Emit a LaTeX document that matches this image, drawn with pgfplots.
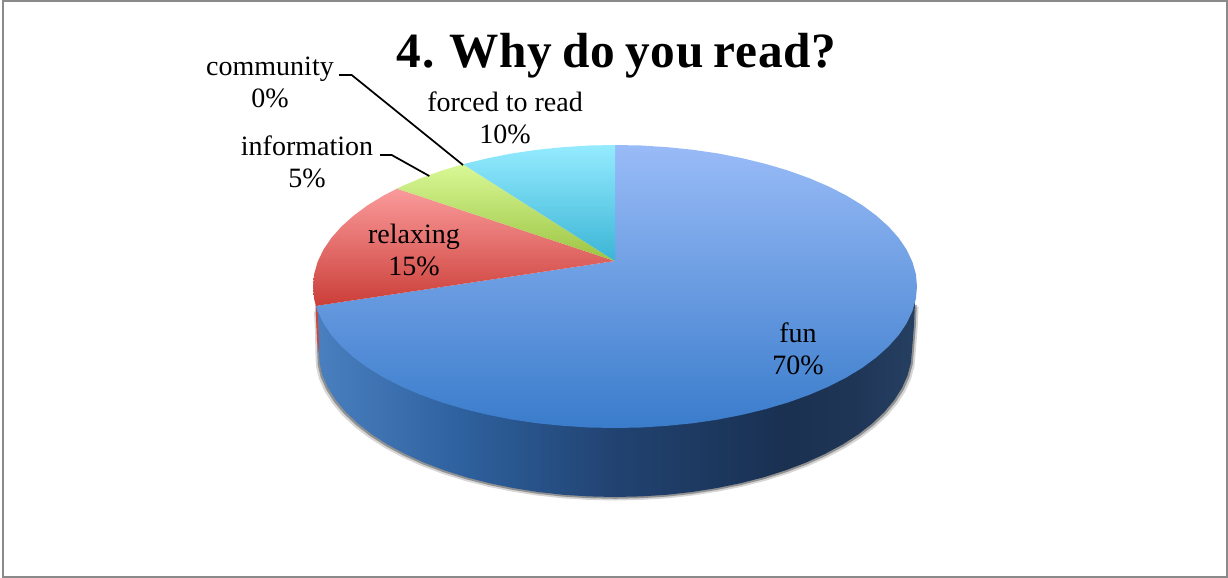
\documentclass[border=0pt]{standalone}
\usepackage{fontspec}
\setmainfont{Liberation Serif}
\newfontfamily\titlefont[WordSpace=0.8, LetterSpace=1.3]{Liberation Serif}
\usepackage{pgfplots}
\usepackage{pgfplotstable}
\pgfplotsset{compat=1.18}

\tikzset{
  lab/.style={font=\fontsize{21}{24}\selectfont, align=center, inner sep=0pt},
  lead/.style={black, line width=1.3pt},
}

% side wall colours, left to right
\pgfdeclarehorizontalshading{wall}{100bp}{
  rgb(0bp)=(.29,.50,.75); rgb(25bp)=(.29,.50,.75);
  rgb(37bp)=(.18,.38,.62); rgb(50bp)=(.13,.26,.44);
  rgb(64bp)=(.10,.19,.32); rgb(70bp)=(.12,.21,.34);
  rgb(75bp)=(.15,.25,.38); rgb(100bp)=(.15,.25,.38)}

% outline of the bottom of the pie, in image pixels
\pgfplotstableread{
x y
915 303
914 325
912 350
910.9 362.8
907.5 375.5
901.9 388
894.1 400.3
884.2 412.1
872.2 423.5
858.3 434.3
842.5 444.5
825 453.9
805.9 462.6
785.4 470.4
763.5 477.3
740.5 483.2
716.6 488.1
691.9 492
666.6 494.8
640.9 496.4
615 497
589.1 496.4
563.4 494.8
538.1 492
513.4 488.1
489.5 483.2
466.5 477.3
444.6 470.4
424.1 462.6
405 453.9
387.5 444.5
371.7 434.3
357.8 423.5
345.8 412.1
335.9 400.3
328.1 388
322.5 375.5
319.5 362.8
319 350
318.5 325
317.5 308
}\bottomedge

\pgfplotstableread{
x y
615 261
615 145
641.3 145.5
667.4 147.2
693.2 149.8
718.3 153.5
742.6 158.3
766 164
788.2 170.6
809.1 178.1
828.5 186.4
846.3 195.5
862.4 205.3
876.5 215.75
888.7 226.7
898.8 238.1
906.7 249.9
912.4 261.9
915.9 274.2
917 286.5
915.9 298.8
912.4 311.1
906.7 323.1
898.8 334.9
888.7 346.3
876.5 357.25
862.4 367.7
846.3 377.5
828.5 386.6
809.1 394.9
788.2 402.4
766 409
742.6 414.7
718.3 419.5
693.2 423.2
667.4 425.8
641.3 427.5
615 428
588.7 427.5
562.6 425.8
536.8 423.2
511.7 419.5
487.4 414.7
464 409
441.8 402.4
420.9 394.9
401.5 386.6
383.7 377.5
367.6 367.7
353.5 357.25
341.3 346.3
331.2 334.9
323.3 323.1
317.6 311.1
315.9 305.9
615 261
}\funslice

\pgfplotstableread{
x y
615 261
315.9 305.9
314.1 298.8
313 286.5
314.1 274.2
317.6 261.9
323.3 249.9
331.2 238.1
341.3 226.7
353.5 215.75
367.6 205.3
383.7 195.5
397 188.6
615 261
}\relaxslice

\pgfplotstableread{
x y
615 261
397 188.6
401.5 186.4
420.9 178.1
441.8 170.6
463 164.2
615 261
}\infoslice

\pgfplotstableread{
x y
615 261
463 164.2
487.4 158.3
511.7 153.5
536.8 149.8
562.6 147.2
588.7 145.5
615 145
615 261
}\forcedslice

\begin{document}
\begin{tikzpicture}
  \begin{axis}[
    scale only axis,
    width=921pt, height=433.5pt,
    xmin=0, xmax=1228,
    ymin=0, ymax=578,
    y dir=reverse,
    hide axis,
    clip=false,
  ]
  \path[use as bounding box] (axis cs:0,0) rectangle (axis cs:1228,578);
  \draw[color=black!46, line width=1.5pt] (axis cs:3,1) rectangle (axis cs:1227,577);

  % soft shadow under the wall
  \addplot[draw=none, fill=black, fill opacity=.16, forget plot]
    table[x expr={615+(\thisrow{x}-615)*1.012}, y expr={\thisrow{y}+3.5}] {\bottomedge};
  \addplot[draw=none, fill=black, fill opacity=.32, forget plot]
    table[x expr={615+(\thisrow{x}-615)*1.006}, y expr={\thisrow{y}+1.8}] {\bottomedge};

  % thin red edge left of the wall
  \addplot[draw=none, fill={rgb,255:red,203;green,70;blue,62}, forget plot]
    coordinates {(315.5,305) (317,340) (321.5,372) (323,372) (319,340) (318,305)};

  \addplot[draw=none, shading=wall, forget plot] table {\bottomedge};

  \addplot[draw=none, top color={rgb,255:red,153;green,187;blue,247},
    bottom color={rgb,255:red,58;green,124;blue,203}, forget plot] table {\funslice};
  \addplot[draw=none, top color={rgb,255:red,250;green,155;blue,155},
    bottom color={rgb,255:red,203;green,62;blue,56}, forget plot] table {\relaxslice};
  \addplot[draw=none, top color={rgb,255:red,216;green,248;blue,150},
    bottom color={rgb,255:red,156;green,196;blue,66}, forget plot] table {\infoslice};
  \addplot[draw=none, top color={rgb,255:red,149;green,235;blue,255},
    bottom color={rgb,255:red,58;green,181;blue,213}, forget plot] table {\forcedslice};

  % leader lines
  \addplot[lead, forget plot] coordinates {(339,75) (351.7,75) (463,165)};
  \addplot[lead, forget plot] coordinates {(380,155) (391.7,155) (429.3,176)};

  \node[lab] at (axis cs:798,349) {fun\\70\%};
  \node[lab] at (axis cs:414,250) {relaxing\\15\%};
  \node[lab] at (axis cs:505,118) {forced to read\\10\%};
  \node[lab] at (axis cs:270,82) {community\\0\%};
  \node[lab] at (axis cs:307,162) {information\\5\%};
  \node[anchor=base, inner sep=0pt,
    font=\titlefont\fontsize{37}{40}\selectfont\bfseries]
    at (axis cs:616.5,67) {4. Why do you read?};
  \end{axis}
\end{tikzpicture}
\end{document}
